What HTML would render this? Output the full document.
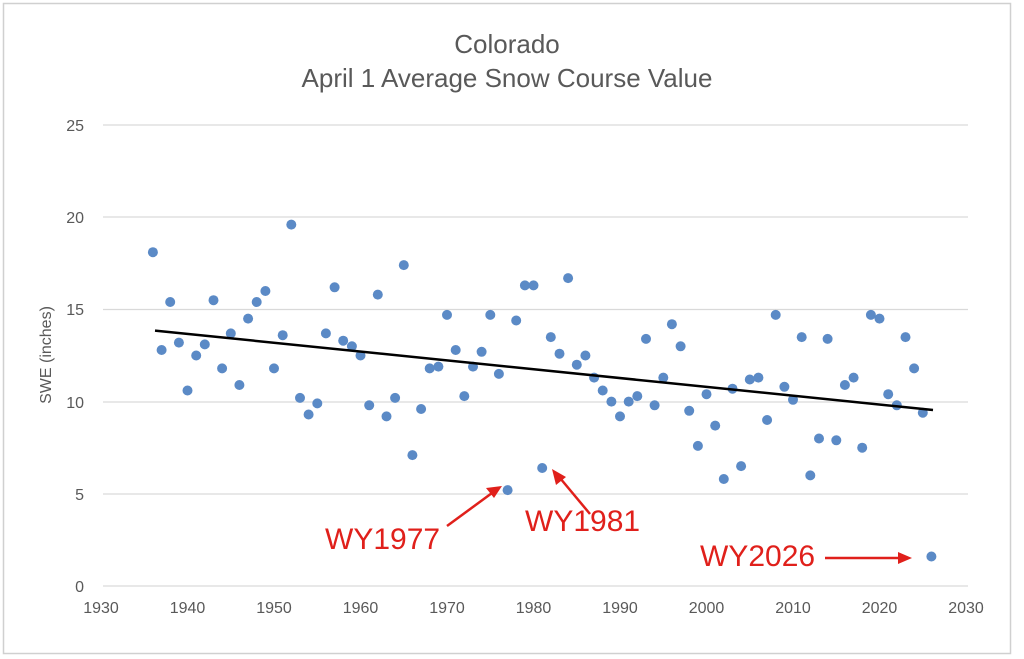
<!DOCTYPE html>
<html><head><style>
body{margin:0;background:#fff;}
svg{display:block;font-family:"Liberation Sans",sans-serif;}
</style></head><body>
<svg width="1024" height="659" viewBox="0 0 1024 659">
<rect x="3.5" y="3.5" width="1007" height="650" fill="#fff" stroke="#d0d0d0" stroke-width="1.5"/>
<text x="507" y="53" text-anchor="middle" font-size="26" fill="#595959">Colorado</text>
<text x="507" y="87" text-anchor="middle" font-size="26" fill="#595959">April 1 Average Snow Course Value</text>
<g stroke="#d9d9d9" stroke-width="1.3">
<line x1="103" x2="968" y1="125" y2="125"/><line x1="103" x2="968" y1="217" y2="217"/>
<line x1="103" x2="968" y1="309.5" y2="309.5"/><line x1="103" x2="968" y1="402" y2="402"/>
<line x1="103" x2="968" y1="494" y2="494"/><line x1="103" x2="968" y1="586" y2="586"/>
</g>
<g font-size="16" fill="#595959" text-anchor="end">
<text x="84" y="131">25</text><text x="84" y="223">20</text><text x="84" y="315">15</text>
<text x="84" y="408">10</text><text x="84" y="500">5</text><text x="84" y="592">0</text>
</g>
<g font-size="16" fill="#595959" text-anchor="middle">
<text x="101" y="613">1930</text><text x="187.5" y="613">1940</text><text x="274" y="613">1950</text>
<text x="360.5" y="613">1960</text><text x="447" y="613">1970</text><text x="533.5" y="613">1980</text>
<text x="620" y="613">1990</text><text x="706.5" y="613">2000</text><text x="793" y="613">2010</text>
<text x="879.5" y="613">2020</text><text x="966" y="613">2030</text>
</g>
<text transform="translate(51,355) rotate(-90)" text-anchor="middle" font-size="16" fill="#595959">SWE (inches)</text>
<g fill="#5b8ac6">
<circle cx="152.9" cy="252.2" r="5"/><circle cx="161.6" cy="350.0" r="5"/><circle cx="170.2" cy="302.0" r="5"/><circle cx="178.9" cy="342.6" r="5"/><circle cx="187.5" cy="390.5" r="5"/><circle cx="196.2" cy="355.5" r="5"/><circle cx="204.8" cy="344.4" r="5"/><circle cx="213.5" cy="300.2" r="5"/><circle cx="222.1" cy="368.4" r="5"/><circle cx="230.8" cy="333.4" r="5"/><circle cx="239.4" cy="385.0" r="5"/><circle cx="248.1" cy="318.6" r="5"/><circle cx="256.7" cy="302.0" r="5"/><circle cx="265.4" cy="291.0" r="5"/><circle cx="274.0" cy="368.4" r="5"/><circle cx="282.7" cy="335.2" r="5"/><circle cx="291.3" cy="224.6" r="5"/><circle cx="300.0" cy="397.9" r="5"/><circle cx="308.6" cy="414.5" r="5"/><circle cx="317.3" cy="403.4" r="5"/><circle cx="325.9" cy="333.4" r="5"/><circle cx="334.6" cy="287.3" r="5"/><circle cx="343.2" cy="340.7" r="5"/><circle cx="351.9" cy="346.3" r="5"/><circle cx="360.5" cy="355.5" r="5"/><circle cx="369.2" cy="405.3" r="5"/><circle cx="377.8" cy="294.6" r="5"/><circle cx="386.5" cy="416.4" r="5"/><circle cx="395.1" cy="397.9" r="5"/><circle cx="403.8" cy="265.1" r="5"/><circle cx="412.4" cy="455.1" r="5"/><circle cx="421.1" cy="409.0" r="5"/><circle cx="429.7" cy="368.4" r="5"/><circle cx="438.4" cy="366.6" r="5"/><circle cx="447.0" cy="314.9" r="5"/><circle cx="455.7" cy="350.0" r="5"/><circle cx="464.3" cy="396.1" r="5"/><circle cx="473.0" cy="366.6" r="5"/><circle cx="481.6" cy="351.8" r="5"/><circle cx="490.3" cy="314.9" r="5"/><circle cx="498.9" cy="373.9" r="5"/><circle cx="507.6" cy="490.1" r="5"/><circle cx="516.2" cy="320.5" r="5"/><circle cx="524.9" cy="285.4" r="5"/><circle cx="533.5" cy="285.4" r="5"/><circle cx="542.2" cy="468.0" r="5"/><circle cx="550.8" cy="337.1" r="5"/><circle cx="559.5" cy="353.7" r="5"/><circle cx="568.1" cy="278.1" r="5"/><circle cx="576.8" cy="364.7" r="5"/><circle cx="585.4" cy="355.5" r="5"/><circle cx="594.1" cy="377.6" r="5"/><circle cx="602.7" cy="390.5" r="5"/><circle cx="611.4" cy="401.6" r="5"/><circle cx="620.0" cy="416.4" r="5"/><circle cx="628.7" cy="401.6" r="5"/><circle cx="637.3" cy="396.1" r="5"/><circle cx="646.0" cy="338.9" r="5"/><circle cx="654.6" cy="405.3" r="5"/><circle cx="663.3" cy="377.6" r="5"/><circle cx="671.9" cy="324.2" r="5"/><circle cx="680.6" cy="346.3" r="5"/><circle cx="689.2" cy="410.8" r="5"/><circle cx="697.9" cy="445.9" r="5"/><circle cx="706.5" cy="394.2" r="5"/><circle cx="715.2" cy="425.6" r="5"/><circle cx="723.8" cy="479.0" r="5"/><circle cx="732.5" cy="388.7" r="5"/><circle cx="741.1" cy="466.1" r="5"/><circle cx="749.8" cy="379.5" r="5"/><circle cx="758.4" cy="377.6" r="5"/><circle cx="767.1" cy="420.0" r="5"/><circle cx="775.7" cy="314.9" r="5"/><circle cx="784.4" cy="386.8" r="5"/><circle cx="793.0" cy="399.8" r="5"/><circle cx="801.7" cy="337.1" r="5"/><circle cx="810.3" cy="475.4" r="5"/><circle cx="819.0" cy="438.5" r="5"/><circle cx="827.6" cy="338.9" r="5"/><circle cx="836.3" cy="440.3" r="5"/><circle cx="844.9" cy="385.0" r="5"/><circle cx="853.6" cy="377.6" r="5"/><circle cx="862.2" cy="447.7" r="5"/><circle cx="870.9" cy="314.9" r="5"/><circle cx="879.5" cy="318.6" r="5"/><circle cx="888.2" cy="394.2" r="5"/><circle cx="896.8" cy="405.3" r="5"/><circle cx="905.5" cy="337.1" r="5"/><circle cx="914.1" cy="368.4" r="5"/><circle cx="922.8" cy="412.7" r="5"/><circle cx="931.4" cy="556.5" r="5"/>
</g>
<line x1="155" y1="330.6" x2="933" y2="410" stroke="#000" stroke-width="2.5"/>
<g fill="#e0201b" font-size="30">
<text x="325" y="549">WY1977</text>
<text x="525" y="531">WY1981</text>
<text x="700" y="566">WY2026</text>
</g>
<g stroke="#e0201b" stroke-width="2.5" fill="#e0201b">
<line x1="447" y1="526" x2="492" y2="493"/><polygon points="502,486 486,488 494,498" stroke="none"/>
<line x1="590" y1="514" x2="560" y2="478"/><polygon points="552,469 556,485 566,477" stroke="none"/>
<line x1="825" y1="558" x2="900" y2="558"/><polygon points="912,558 898,552 898,564" stroke="none"/>
</g>
</svg>
</body></html>
